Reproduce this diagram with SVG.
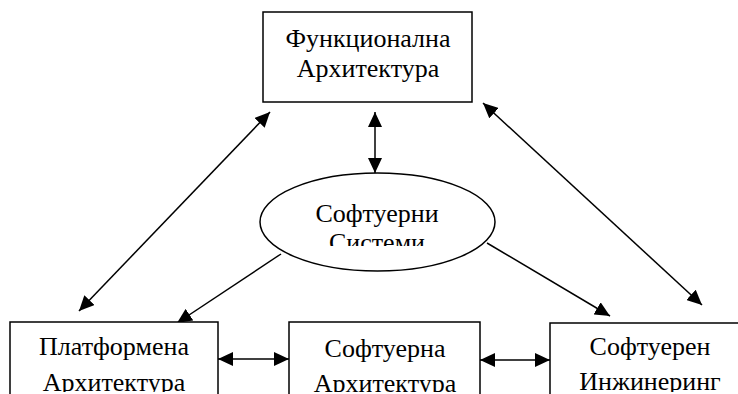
<svg xmlns="http://www.w3.org/2000/svg" width="738" height="394" viewBox="0 0 738 394">
<style>
.box{fill:#fff;stroke:#000;stroke-width:1.5}
.t{font-family:"Liberation Serif","Times New Roman",serif;font-size:26px;fill:#000;text-anchor:middle}
.c{stroke:#000;stroke-width:1.5;fill:none}
</style>
<defs>
<marker id="ah" markerUnits="userSpaceOnUse" markerWidth="16" markerHeight="14" refX="15" refY="7" orient="auto-start-reverse" viewBox="0 0 16 14">
<path d="M0,0 L15,7 L0,14 z" fill="#000"/>
</marker>
<clipPath id="ce"><rect x="250" y="190" width="260" height="56"/></clipPath>
<clipPath id="cb"><rect x="0" y="320" width="738" height="72"/></clipPath>
</defs>
<g id="connectors">
<line class="c" x1="375" y1="112" x2="375" y2="173" marker-start="url(#ah)" marker-end="url(#ah)"/>
<line class="c" x1="270" y1="112" x2="79" y2="311" marker-start="url(#ah)" marker-end="url(#ah)"/>
<line class="c" x1="483" y1="103" x2="702" y2="305" marker-start="url(#ah)" marker-end="url(#ah)"/>
<line class="c" x1="281" y1="254" x2="177" y2="323" marker-end="url(#ah)"/>
<line class="c" x1="487" y1="243" x2="610" y2="316" marker-end="url(#ah)"/>
<line class="c" x1="218" y1="359" x2="289" y2="359" marker-start="url(#ah)" marker-end="url(#ah)"/>
<line class="c" x1="480" y1="360" x2="550" y2="360" marker-start="url(#ah)" marker-end="url(#ah)"/>
</g>
<g id="functional">
<rect class="box" x="263" y="12" width="209" height="90"/>
<text class="t" x="368" y="47">Функционална</text>
<text class="t" x="368" y="77">Архитектура</text>
</g>
<g id="systems">
<ellipse class="box" cx="377.5" cy="222" rx="117.5" ry="49"/>
<g clip-path="url(#ce)">
<text class="t" x="377" y="222">Софтуерни</text>
<text class="t" x="377" y="251">Системи</text>
</g>
</g>
<g id="platform">
<rect class="box" x="10" y="322" width="208" height="80"/>
<g clip-path="url(#cb)">
<text class="t" x="114" y="355">Платформена</text>
<text class="t" x="114" y="391">Архитектура</text>
</g>
</g>
<g id="software">
<rect class="box" x="289" y="322" width="191" height="80"/>
<g clip-path="url(#cb)">
<text class="t" x="385" y="357">Софтуерна</text>
<text class="t" x="385" y="392">Архитектура</text>
</g>
</g>
<g id="engineering">
<rect class="box" x="550" y="323" width="200" height="80"/>
<g clip-path="url(#cb)">
<text class="t" x="650" y="355">Софтуерен</text>
<text class="t" x="650" y="390">Инжинеринг</text>
</g>
</g>
</svg>
